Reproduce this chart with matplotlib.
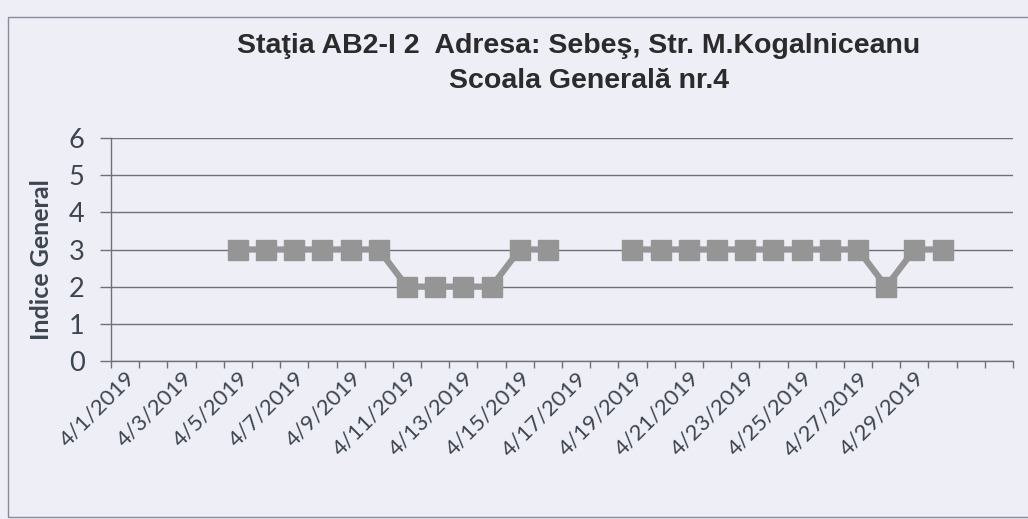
import numpy as np
import matplotlib
matplotlib.use("Agg")
import matplotlib.pyplot as plt
from matplotlib.patches import Rectangle

# ---- data ----
dates = ["4/%d/2019" % d for d in range(1, 31)] + ["5/1/2019", "5/2/2019"]
values = [np.nan, np.nan, np.nan, np.nan,
          3, 3, 3, 3, 3, 3,
          2, 2, 2, 2,
          3, 3,
          np.nan, np.nan,
          3, 3, 3, 3, 3, 3, 3, 3, 3,
          2,
          3, 3,
          np.nan, np.nan]
label_every = 2
last_label = "4/29/2019"
title_line1 = "Staţia AB2-I 2  Adresa: Sebeş, Str. M.Kogalniceanu"
title_line2 = "Scoala Generală nr.4"
ylabel = "Indice General"
yticks = [0, 1, 2, 3, 4, 5, 6]

# ---- style ----
bg = "#eeeef7"
txt = "#3c4550"
grid_c = "#6f7078"
mark_c = "#959595"

fig = plt.figure(figsize=(10.28, 5.19), dpi=100, facecolor=bg)
ax = fig.add_axes([111/1028, 1-361/519, (1013-111)/1028, (361-138)/519])
ax.set_facecolor(bg)

x = np.arange(len(dates))
ax.plot(x, values, color=mark_c, lw=4.5, marker="s", markersize=15,
        markerfacecolor=mark_c, markeredgecolor=mark_c, zorder=3)

ax.set_xlim(-0.5, len(dates) - 0.5)
ax.set_ylim(0, 6)
ax.set_yticks(yticks)
ax.set_yticklabels([str(v) for v in yticks], fontsize=19.5, family="Lato", color=txt)
ax.grid(axis="y", color=grid_c, lw=1)
ax.set_axisbelow(True)

# major ticks at category boundaries, labels at category centers (minor)
ax.set_xticks(np.arange(len(dates) + 1) - 0.5)
ax.set_xticklabels([])
lab_idx = [i for i in range(0, dates.index(last_label) + 1, label_every)]
ax.set_xticks(lab_idx, minor=True)
ax.set_xticklabels([dates[i] for i in lab_idx], minor=True, rotation=45,
                   ha="right", rotation_mode="anchor", fontsize=16,
                   family="Lato", color=txt)
ax.tick_params(axis="x", which="minor", length=0, pad=5)
ax.tick_params(axis="x", which="major", length=5, color=grid_c, width=1)
ax.tick_params(axis="y", length=8, color=grid_c, width=1, pad=11)

for s in ["top", "right"]:
    ax.spines[s].set_visible(False)
for s in ["left", "bottom"]:
    ax.spines[s].set_color(grid_c)
    ax.spines[s].set_linewidth(1)

ax.set_ylabel(ylabel, fontsize=18, family="Lato", fontweight="bold", color=txt)
ax.yaxis.set_label_coords((53-111)/902, (361-260)/223)

fig.text(579/1028, 1-46/519, title_line1, ha="center", va="center",
         fontsize=20.5, family="Liberation Sans", fontweight="bold", color="#2b2b2b")
fig.text(589/1028, 1-81/519, title_line2, ha="center", va="center",
         fontsize=20.5, family="Liberation Sans", fontweight="bold", color="#2b2b2b")

fig.patches.append(Rectangle((8/1028, 2/519), 1.2, 1-19/519, transform=fig.transFigure,
                             fill=False, edgecolor="#8a8a9a", lw=1))

fig.savefig("out.png", dpi=100, facecolor=bg)
